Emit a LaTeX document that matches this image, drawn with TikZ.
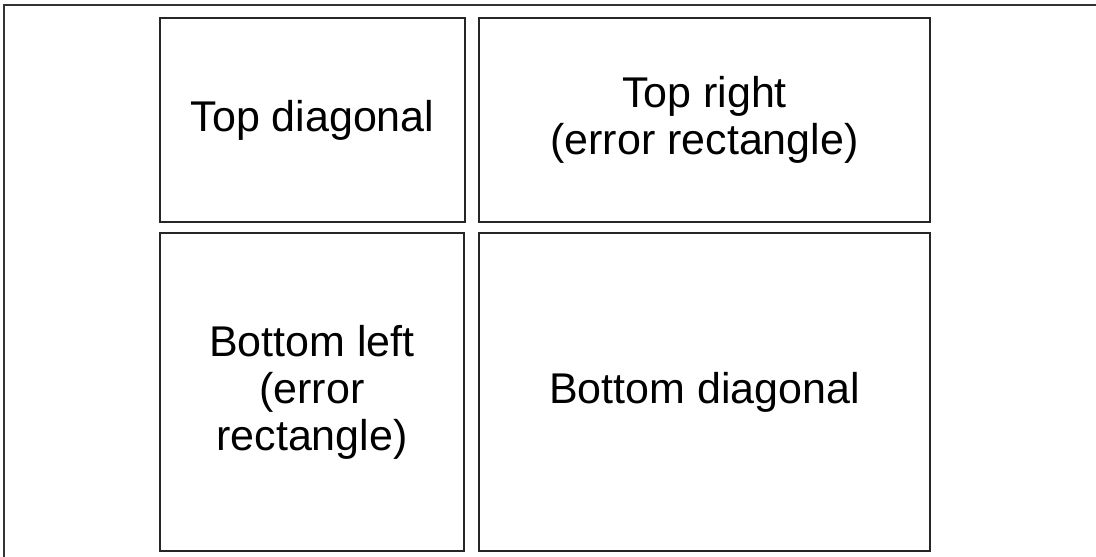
\documentclass[tikz,border=0pt]{standalone}
\usepackage{fontspec}
\setmainfont{Liberation Sans}
\tikzset{
  frame/.style={draw=black!80, line width=1.6pt},
  cell/.style={draw=black!85, line width=1.6pt, rectangle, align=center,
    inner sep=0pt, font=\fontsize{43}{47}\selectfont}
}
\begin{document}
\begin{tikzpicture}[x=1pt,y=-1pt]
  \useasboundingbox (0,0) rectangle (1096,557);
  % outer frame (left and top edges)
  \coordinate (fb) at (4,557);
  \coordinate (fc) at (4,5);
  \coordinate (fr) at (1096,5);
  \draw[frame] (fb) -- (fc) -- (fr);
  % the four cells
  \node[cell, minimum width=305pt, minimum height=204pt] (tl) at (312.5,120) {Top diagonal};
  \node[cell, minimum width=451pt, minimum height=204pt] (tr) at (704.5,120) {Top right\\(error rectangle)};
  \node[cell, minimum width=304pt, minimum height=318pt] (bl) at (312,392) {Bottom left\\(error\\rectangle)};
  \node[cell, minimum width=451pt, minimum height=318pt] (br) at (704.5,392) {Bottom diagonal};
\end{tikzpicture}
\end{document}
